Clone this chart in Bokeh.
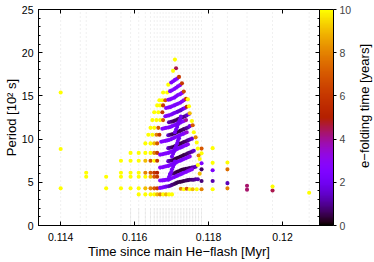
import numpy as np
from bokeh.plotting import figure
from bokeh.layouts import row
from bokeh.models import (ColumnDataSource, LinearColorMapper, ColorBar, FixedTicker,
                          LinearAxis, Range1d, PrintfTickFormatter)
from bokeh.core.properties import value
from bokeh.embed import file_html
from bokeh.resources import INLINE

# ---------------- data ----------------
x_ticks = [0.114, 0.116, 0.118, 0.120]
y_ticks = [0, 5, 10, 15, 20, 25]
cb_ticks = [0, 2, 4, 6, 8, 10]
x_title = "Time since main He\u2212flash [Myr]"
y_title = "Period [10\u00b2 s]"
cb_title = "e\u2212folding time [years]"

# time steps of the model sequence (grey: all modes)
grey_t = [0.11400, 0.11453, 0.11469, 0.11523, 0.11563, 0.11589, 0.11611, 0.11629,
          0.11643, 0.11653, 0.11661, 0.11669, 0.11677, 0.11685, 0.11693, 0.11701,
          0.11709, 0.11717, 0.11725, 0.11733, 0.11741, 0.11749, 0.11757, 0.11765,
          0.11773, 0.11781, 0.11811, 0.11851, 0.11904, 0.11973, 0.12072]
dense_t = [0.11589, 0.11611, 0.11629, 0.11643, 0.11653, 0.11661, 0.11669, 0.11677,
           0.11685, 0.11693, 0.11701, 0.11709, 0.11717, 0.11725, 0.11733, 0.11741,
           0.11749, 0.11757, 0.11765, 0.11773, 0.11781]

# sparse unstable modes (left rows, tails, outliers)
row_t = ([0.11611, 0.11629, 0.11643, 0.11653, 0.11661, 0.11669, 0.11677, 0.11685, 0.11693, 0.11701]
         + [0.11400, 0.11523, 0.11563, 0.11589, 0.11611, 0.11629, 0.11643, 0.11653, 0.11661]
         + [0.11469, 0.11523, 0.11563, 0.11589, 0.11611, 0.11629, 0.11643, 0.11653, 0.11661]
         + [0.11469, 0.11563, 0.11589, 0.11611, 0.11629, 0.11643, 0.11653, 0.11661]
         + [0.11563, 0.11589, 0.11611, 0.11629, 0.11643, 0.11653, 0.11661]
         + [0.11589, 0.11611, 0.11629, 0.11643, 0.11653, 0.11661]
         + [0.11400, 0.11400]
         + [0.11629, 0.11643, 0.11653, 0.11661]
         + [0.11637, 0.11648, 0.11659, 0.11667]
         + [0.11643, 0.11653, 0.11664]
         + [0.11648, 0.11659, 0.11669, 0.11677]
         + [0.11653, 0.11664, 0.11675]
         + [0.11661, 0.11669, 0.11677]
         + [0.11667, 0.11675, 0.11683]
         + [0.11677, 0.11688]
         + [0.11691]
         + [0.11709, 0.11712, 0.11704])
row_p = ([3.6] * 10 + [4.3] * 9 + [5.65] * 9 + [6.1] * 8 + [7.5] * 7 + [8.4] * 6
         + [8.85, 15.4] + [9.5] * 4 + [10.5] * 4 + [11.3] * 3 + [12.2] * 4 + [13.1] * 3
         + [13.9] * 3 + [14.5] * 3 + [15.4] * 2 + [16.3] + [19.2, 18.2, 17.9])
row_c = ([10, 10, 10, 10, 9, 8, 10, 9, 10, 10]
         + [10, 10, 10, 10, 10, 9, 8, 7, 6]
         + [10, 10, 10, 10, 10, 10, 9, 7, 6]
         + [10, 10, 10, 10, 8, 7, 6, 5]
         + [10, 10, 10, 9, 7, 10, 6]
         + [10, 10, 10, 10, 8, 6]
         + [10, 10]
         + [10, 10, 9, 7]
         + [10, 10, 8, 6]
         + [10, 10, 7]
         + [10, 10, 10, 7]
         + [10, 10, 6]
         + [10, 10, 6]
         + [10, 10, 7]
         + [10, 10]
         + [10]
         + [10, 4.5, 10])

tail_t = ([0.11725, 0.11733, 0.11741, 0.11749, 0.11757, 0.11768, 0.11781, 0.11811, 0.11851, 0.11904, 0.11973, 0.12072]
          + [0.11781, 0.11811, 0.11851, 0.11904, 0.11973]
          + [0.11781, 0.11811, 0.11851]
          + [0.11781, 0.11811, 0.11851]
          + [0.11781, 0.11781, 0.11811]
          + [0.11744, 0.11747, 0.11749, 0.11755, 0.11757, 0.11760, 0.11765, 0.11768, 0.11771, 0.11773, 0.11776, 0.11771, 0.11776])
tail_p = ([4.25, 4.2, 4.25, 4.2, 4.2, 4.2, 4.2, 4.2, 4.3, 4.15, 4.05, 3.8]
          + [5.15, 5.15, 4.9, 4.6, 4.5]
          + [6.5, 6.4, 6.5]
          + [7.2, 7.25, 7.3]
          + [8.35, 8.9, 8.95]
          + [14.6, 13.8, 13.0, 12.1, 11.6, 10.8, 10.2, 9.6, 8.9, 8.1, 7.7, 7.0, 6.0])
tail_c = ([8, 10, 7, 10, 9, 10, 8, 10, 8, 4.3, 4.5, 10]
          + [0.8, 1.2, 1.3, 4.3, 10]
          + [0.7, 2.4, 7.5]
          + [2.5, 10, 10]
          + [10, 7, 10]
          + [10, 10, 9, 10, 7, 10, 8, 10, 10, 8, 10, 10, 9])

# strongly unstable mode sequences (arms)
arm_t = [
    [0.11699, 0.11704, 0.11709, 0.11715, 0.11720],
    [0.11696, 0.11701, 0.11707, 0.11712, 0.11717, 0.11723, 0.11728],
    [0.11691, 0.11696, 0.11701, 0.11707, 0.11712, 0.11717, 0.11723, 0.11728, 0.11733],
    [0.11685, 0.11691, 0.11696, 0.11701, 0.11707, 0.11712, 0.11717, 0.11723, 0.11728, 0.11733, 0.11739],
    [0.11683, 0.11688, 0.11693, 0.11699, 0.11704, 0.11709, 0.11715, 0.11720, 0.11725, 0.11731, 0.11736, 0.11741],
    [0.11693, 0.11699, 0.11704, 0.11709, 0.11715, 0.11720, 0.11725, 0.11731, 0.11736, 0.11741, 0.11747],
    [0.11675, 0.11680, 0.11685, 0.11691, 0.11696, 0.11701, 0.11707, 0.11712, 0.11717, 0.11723, 0.11728, 0.11733, 0.11739],
    [0.11691, 0.11696, 0.11701, 0.11707, 0.11712, 0.11717, 0.11723, 0.11728, 0.11733, 0.11739, 0.11744, 0.11749],
    [0.11672, 0.11677, 0.11683, 0.11688, 0.11693, 0.11699, 0.11704, 0.11709, 0.11715, 0.11720, 0.11725, 0.11731, 0.11736, 0.11741],
    [0.11691, 0.11696, 0.11701, 0.11707, 0.11712, 0.11717, 0.11723, 0.11728, 0.11733, 0.11739, 0.11744, 0.11749, 0.11755],
    [0.11669, 0.11675, 0.11680, 0.11685, 0.11691, 0.11696, 0.11701, 0.11707, 0.11712, 0.11717, 0.11723, 0.11728, 0.11733, 0.11739, 0.11744],
    [0.11691, 0.11696, 0.11701, 0.11707, 0.11712, 0.11717, 0.11723, 0.11728, 0.11733, 0.11739, 0.11744, 0.11749, 0.11755, 0.11760],
    [0.11669, 0.11675, 0.11680, 0.11685, 0.11691, 0.11696, 0.11701, 0.11707, 0.11712, 0.11717, 0.11723, 0.11728, 0.11733, 0.11739, 0.11744, 0.11749],
    [0.11696, 0.11701, 0.11707, 0.11712, 0.11717, 0.11723, 0.11728, 0.11733, 0.11739, 0.11744, 0.11749, 0.11755, 0.11760, 0.11765],
    [0.11669, 0.11675, 0.11680, 0.11685, 0.11691, 0.11696, 0.11701, 0.11707, 0.11712, 0.11717, 0.11723, 0.11728, 0.11733, 0.11739, 0.11744, 0.11749, 0.11755],
    [0.11669, 0.11675, 0.11680, 0.11685, 0.11691, 0.11696, 0.11701, 0.11707, 0.11712, 0.11717, 0.11723, 0.11728, 0.11733, 0.11739, 0.11744, 0.11749, 0.11755, 0.11760, 0.11765, 0.11771],
    [0.11691, 0.11693, 0.11696, 0.11699, 0.11701, 0.11704, 0.11707, 0.11709],
    [0.11701, 0.11704, 0.11707, 0.11709, 0.11712, 0.11715, 0.11717, 0.11720],
    [0.11709, 0.11712, 0.11715, 0.11717, 0.11720, 0.11723, 0.11725],
]
arm_p = [
    [16.55, 16.7, 16.85, 17.0, 17.2],
    [15.55, 15.65, 15.8, 15.95, 16.1, 16.25, 16.45],
    [14.55, 14.6, 14.7, 14.8, 14.95, 15.1, 15.2, 15.35, 15.5],
    [13.6, 13.65, 13.7, 13.8, 13.9, 14.0, 14.1, 14.2, 14.35, 14.5, 14.65],
    [12.65, 12.7, 12.75, 12.85, 12.95, 13.05, 13.15, 13.25, 13.35, 13.5, 13.6, 13.75],
    [11.95, 12.0, 12.05, 12.15, 12.25, 12.35, 12.45, 12.55, 12.65, 12.75, 12.9],
    [11.2, 11.25, 11.3, 11.35, 11.4, 11.5, 11.6, 11.7, 11.8, 11.9, 12.0, 12.1, 12.2],
    [10.45, 10.5, 10.55, 10.65, 10.75, 10.85, 10.95, 11.05, 11.15, 11.25, 11.35, 11.5],
    [9.7, 9.75, 9.8, 9.85, 9.9, 10.0, 10.1, 10.2, 10.3, 10.4, 10.5, 10.6, 10.7, 10.8],
    [8.95, 9.0, 9.05, 9.15, 9.25, 9.35, 9.45, 9.55, 9.65, 9.75, 9.85, 9.95, 10.05],
    [8.2, 8.25, 8.3, 8.35, 8.4, 8.5, 8.6, 8.7, 8.8, 8.9, 9.0, 9.1, 9.2, 9.3, 9.4],
    [7.45, 7.5, 7.55, 7.65, 7.75, 7.85, 7.95, 8.05, 8.15, 8.25, 8.35, 8.45, 8.55, 8.65],
    [6.7, 6.75, 6.8, 6.85, 6.9, 7.0, 7.1, 7.2, 7.3, 7.4, 7.5, 7.6, 7.7, 7.8, 7.9, 8.0],
    [5.95, 6.0, 6.05, 6.15, 6.25, 6.35, 6.45, 6.5, 6.55, 6.6, 6.65, 6.7, 6.75, 6.8],
    [5.2, 5.22, 5.25, 5.3, 5.35, 5.4, 5.5, 5.6, 5.7, 5.8, 5.9, 6.0, 6.1, 6.2, 6.3, 6.4, 6.5],
    [4.35, 4.4, 4.45, 4.5, 4.55, 4.6, 4.7, 4.8, 4.9, 5.0, 5.05, 5.1, 5.15, 5.2, 5.25, 5.3, 5.3, 5.3, 5.35, 5.35],
    [5.3, 5.6, 5.9, 6.2, 6.5, 6.8, 7.1, 7.4],
    [8.0, 8.3, 8.6, 8.9, 9.2, 9.5, 9.8, 10.1],
    [10.8, 11.1, 11.4, 11.7, 12.0, 12.3, 12.6],
]
arm_c = [
    [2.5, 2.5, 2.5, 2.6, 6.0],
    [2.5, 2.5, 2.4, 2.4, 2.5, 2.8, 6.0],
    [2.6, 2.5, 2.5, 2.4, 2.4, 2.4, 2.5, 2.8, 6.5],
    [2.6, 2.5, 2.5, 2.4, 2.3, 2.3, 2.3, 2.4, 2.6, 3.0, 6.0],
    [2.6, 2.5, 2.4, 2.3, 2.2, 2.0, 1.8, 1.6, 1.5, 1.8, 2.4, 5.5],
    [1.2, 0.9, 0.7, 0.6, 0.6, 0.6, 0.7, 0.8, 1.0, 1.4, 2.2],
    [2.6, 2.6, 2.5, 2.5, 2.4, 2.4, 2.3, 2.3, 2.3, 2.4, 2.5, 2.8, 4.0],
    [1.5, 1.0, 0.7, 0.6, 0.5, 0.5, 0.5, 0.6, 0.7, 0.9, 1.2, 1.8],
    [2.6, 2.6, 2.5, 2.5, 2.4, 2.4, 2.3, 2.3, 2.3, 2.3, 2.4, 2.5, 2.8, 3.5],
    [1.5, 1.0, 0.7, 0.5, 0.5, 0.5, 0.5, 0.5, 0.6, 0.7, 0.9, 1.2, 1.6],
    [2.6, 2.6, 2.5, 2.5, 2.5, 2.4, 2.4, 2.3, 2.3, 2.3, 2.3, 2.4, 2.5, 2.7, 3.0],
    [1.5, 1.0, 0.7, 0.5, 0.4, 0.4, 0.4, 0.5, 0.5, 0.6, 0.7, 0.9, 1.1, 1.5],
    [2.6, 2.6, 2.5, 2.5, 2.5, 2.4, 2.4, 2.3, 2.3, 2.3, 2.3, 2.4, 2.4, 2.5, 2.7, 3.0],
    [1.4, 1.0, 0.7, 0.5, 0.4, 0.4, 0.4, 0.4, 0.5, 0.6, 0.7, 0.9, 1.1, 1.4],
    [2.7, 2.6, 2.6, 2.5, 2.5, 2.5, 2.4, 2.4, 2.4, 2.4, 2.4, 2.5, 2.5, 2.6, 2.7, 2.8, 3.0],
    [2.5, 2.4, 2.3, 2.0, 1.6, 1.2, 0.9, 0.7, 0.6, 0.5, 0.5, 0.5, 0.5, 0.6, 0.6, 0.7, 0.8, 0.9, 1.0, 1.2],
    [2.2, 2.2, 2.2, 2.2, 2.2, 2.2, 2.2, 2.2],
    [2.1, 2.1, 2.1, 2.1, 2.1, 2.1, 2.1, 2.1],
    [2.0, 2.0, 2.0, 2.0, 2.0, 2.0, 2.0],
]

# ---------------- colour map (gnuplot 7,5,15) ----------------
s = np.linspace(0, 1, 256)
rr = np.sqrt(s)
gg = s ** 3
bb = np.clip(np.sin(2 * np.pi * s), 0, 1)
palette = ["#%02x%02x%02x" % (int(round(255 * a)), int(round(255 * b)), int(round(255 * c)))
           for a, b, c in zip(rr, gg, bb)]
mapper = LinearColorMapper(palette=palette, low=0, high=10)

FONT = "Liberation Sans"

p = figure(width=357, height=262, x_range=Range1d(0.1134, 0.1210), y_range=Range1d(0, 25),
           output_backend="svg", toolbar_location=None,
           min_border_left=35, min_border_right=38, min_border_top=9, min_border_bottom=37)
p.background_fill_color = "white"
p.border_fill_color = "white"
p.outline_line_color = "black"
p.outline_line_width = 1
p.xgrid.visible = False
p.ygrid.visible = False

# grey (all modes)
gsrc = ColumnDataSource(dict(t=grey_t))
p.segment(x0="t", y0=0, x1="t", y1=25, source=gsrc, line_color="#e0e0e0",
          line_width=1, line_dash="1 3")
dsrc = ColumnDataSource(dict(t=dense_t))
p.segment(x0="t", y0=0, x1="t", y1=2.0, source=dsrc, line_color="#dddddd",
          line_width=1, line_dash="1 1")

SIZE = 4.1
fc = {"field": "c", "transform": mapper}
p.scatter(x="t", y="p", source=ColumnDataSource(dict(t=row_t, p=row_p, c=row_c)),
          size=SIZE, fill_color=fc, line_color=None)
for at, ap, ac in zip(arm_t, arm_p, arm_c):
    p.scatter(x="t", y="p", source=ColumnDataSource(dict(t=at, p=ap, c=ac)),
              size=SIZE, fill_color=fc, line_color=None)
p.scatter(x="t", y="p", source=ColumnDataSource(dict(t=tail_t, p=tail_p, c=tail_c)),
          size=SIZE, fill_color=fc, line_color=None)

# axes
for ax in (p.xaxis[0], p.yaxis[0]):
    ax.major_tick_in = 4
    ax.major_tick_out = 0
    ax.minor_tick_in = 2
    ax.minor_tick_out = 0
    ax.axis_line_color = "black"
    ax.major_tick_line_color = "black"
    ax.minor_tick_line_color = "black"
    ax.major_label_text_font = FONT
    ax.major_label_text_font_size = "10.5px"
    ax.major_label_text_color = "black"
    ax.axis_label_text_font = FONT
    ax.axis_label_text_font_size = "13px"
    ax.axis_label_text_font_style = "normal"
    ax.axis_label_text_color = "black"
    ax.axis_label_standoff = 0
p.xaxis.ticker = FixedTicker(ticks=x_ticks)
p.xaxis.formatter = PrintfTickFormatter(format="%g")
p.xaxis.minor_tick_line_color = None
p.xaxis.major_label_standoff = 7
p.xaxis.axis_label = x_title
p.yaxis.ticker = FixedTicker(ticks=y_ticks, minor_ticks=list(range(0, 26)))
p.yaxis.major_label_standoff = 5
p.yaxis.axis_label = y_title

# mirrored ticks on right and top
ax_r = LinearAxis(ticker=FixedTicker(ticks=y_ticks, minor_ticks=list(range(0, 26))),
                  major_label_text_font_size="1px", major_label_text_color=None,
                  major_label_standoff=0,
                  major_tick_in=4, major_tick_out=0, minor_tick_in=2, minor_tick_out=0,
                  axis_line_color="black")
p.add_layout(ax_r, "right")
ax_t = LinearAxis(ticker=FixedTicker(ticks=x_ticks),
                  major_label_text_font_size="1px", major_label_text_color=None,
                  major_label_standoff=0,
                  major_tick_in=4, major_tick_out=0, minor_tick_line_color=None,
                  axis_line_color="black")
p.add_layout(ax_t, "above")

# invisible spacer between frame and colour bar
ax_sp = LinearAxis(ticker=FixedTicker(ticks=[]), major_label_text_font_size="1px",
                   major_label_text_color=None, major_label_standoff=0,
                   major_tick_in=0, major_tick_out=7, major_tick_line_alpha=0,
                   minor_tick_line_color=None, axis_line_color=None)
p.add_layout(ax_sp, "right")

cb = ColorBar(color_mapper=mapper, ticker=FixedTicker(ticks=cb_ticks), width=14,
              padding=0, margin=0, label_standoff=3,
              major_tick_in=0, major_tick_out=3, major_tick_line_color="black",
              minor_tick_line_color=None, bar_line_color="black",
              major_label_text_font=FONT, major_label_text_font_size="10.5px",
              background_fill_color=None, border_line_color=None)
p.add_layout(cb, "right")

# narrow strip holding the colour-bar title (reads bottom to top)
q = figure(width=17, height=262, x_range=Range1d(0, 17), y_range=Range1d(0, 262),
           output_backend="svg", toolbar_location=None,
           min_border_left=0, min_border_right=0, min_border_top=0, min_border_bottom=0)
q.axis.visible = False
q.xgrid.visible = False
q.ygrid.visible = False
q.outline_line_color = None
q.background_fill_color = "white"
q.border_fill_color = "white"
q.text(x=[7], y=[145], text=[cb_title], angle=np.pi / 2, text_align="center",
       text_baseline="middle", text_font=value(FONT), text_font_size="13px",
       text_color="black")

layout = row(p, q)
open("out.html", "w").write(file_html(layout, INLINE))
